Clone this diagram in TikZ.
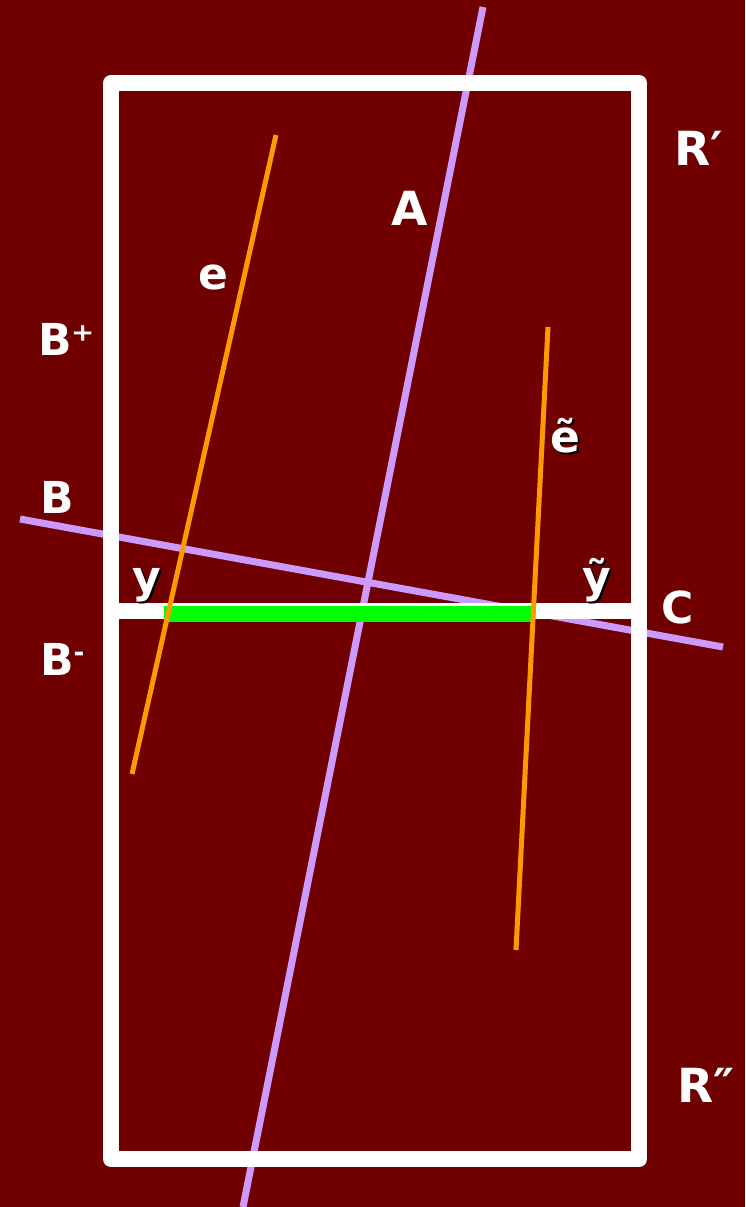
\documentclass[tikz,border=0pt]{standalone}
\usepackage{fontspec}
\setmainfont{DejaVu Sans}
\definecolor{bgred}{HTML}{700000}
\definecolor{lilac}{HTML}{CC99FF}
\definecolor{amber}{HTML}{FF9900}
\definecolor{lime}{HTML}{00FF00}
\tikzset{
  lbl/.style={text=white, font=\fontsize{44}{50}\selectfont\bfseries, inner sep=0pt, anchor=base west},
  lblbig/.style={lbl, font=\fontsize{47}{52}\selectfont\bfseries},
  shade/.style={lbl, text=black}
}
% label with a small black shadow
\newcommand{\shlabel}[3]{%
  \node[shade] at ($(#2)+(2,2)$) {#3};
  \node[lbl] (#1) at (#2) {#3};}
\usetikzlibrary{calc}
\begin{document}
\begin{tikzpicture}[x=1pt, y=-1pt]
        \useasboundingbox (0,0) rectangle (745,1207);
        \fill[bgred] (0,0) rectangle (745,1207);
        \clip (0,0) rectangle (745,1207);
        % purple lines A and B
        \coordinate (a1) at (483,7);
        \coordinate (a2) at (243,1207);
        \coordinate (b1) at (20,519);
        \coordinate (b2) at (723,647);
        \draw[lilac, line width=7pt] (a1) -- (a2);
        \draw[lilac, line width=7pt] (b1) -- (b2);
        % frame and the cut C
        \coordinate (cl) at (111,611);
        \coordinate (cr) at (639,611);
        \draw[white, line width=16pt, line join=round] (111,83) rectangle (639,1159);
        \draw[white, line width=16pt] (cl) -- (cr);
        \coordinate (g1) at (164,614);
        \coordinate (g2) at (531,614);
        \draw[lime, line width=16pt] (g1) -- (g2);
        % orange lines e and e tilde
        \coordinate (e1) at (276,135);
        \coordinate (e2) at (132,774);
        \coordinate (f1) at (548,327);
        \coordinate (f2) at (516,950);
        \draw[amber, line width=5pt] (e1) -- (e2);
        \draw[amber, line width=5pt] (f1) -- (f2);
        % labels
        \node[lblbig] (rp) at (674,165) {R′};
        \node[lblbig] (rpp) at (677,1102) {R″};
        \node[lblbig] (la) at (391,225) {A};
        \node[lbl] (le) at (198,289) {e};
        \node[lbl] (lbp) at (38,355) {B⁺};
        \node[lbl] (lb) at (40,513) {B};
        \node[lbl] (lbm) at (40,675) {B\raisebox{14pt}{\fontsize{26}{26}\selectfont -}};
        \node[lbl] (lc) at (661,623) {C};
        \shlabel{ly}{132,592}{y}
        \shlabel{lyt}{582,592}{ỹ}
        \shlabel{let}{550,452}{ẽ}
\end{tikzpicture}
\end{document}
